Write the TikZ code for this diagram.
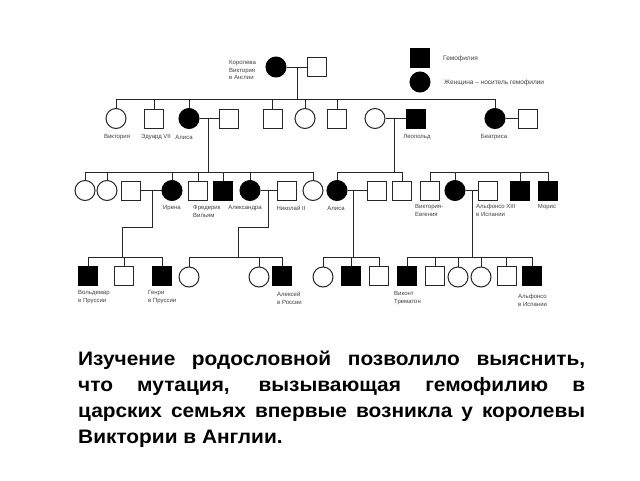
\documentclass[tikz,border=0pt]{standalone}
\usepackage{fontspec}
\setmainfont{Liberation Sans}
\newfontfamily\capfont[FakeStretch=1.07]{Liberation Sans}
\begin{document}
\begin{tikzpicture}[x=1pt,y=-1pt,
  ln/.style={draw=black!85,line width=0.9pt},
  sq/.style={draw=black!85,line width=1pt,fill=white,rectangle,minimum size=19pt,inner sep=0pt},
  sqf/.style={sq,fill=black,draw=black},
  ci/.style={draw=black!85,line width=1pt,fill=white,circle,minimum size=20pt,inner sep=0pt},
  cif/.style={ci,fill=black,draw=black},
  lbl/.style={text=black!75,font=\fontsize{6}{7.8}\selectfont,inner sep=0pt,align=left},
  lgd/.style={text=black!75,font=\fontsize{6.5}{8}\selectfont,inner sep=0pt,anchor=west}]
\useasboundingbox (0,0) rectangle (640,480);
\fill[white] (0,0) rectangle (640,480);

% ---------- legend ----------
\node[sqf] (lg1) at (419.5,57.5) {};
\node[cif] (lg2) at (420,82) {};
\node[lgd] (lgt1) at (443,59) {Гемофилия};
\node[lgd] (lgt2) at (444,83) {Женщина -- носитель гемофилии};

% ---------- generation 1 ----------
\node[cif] (qv) at (276,67) {};
\node[sq] (qa) at (317,67) {};
\node[lbl,anchor=north west] (lqv) at (229,60) {Королева\\Виктория\\в Англии};
\draw[ln] (qv.east) -- (qa.west);
\coordinate (m1) at (297,67);
\coordinate (s1) at (297,99);
\draw[ln] (m1) -- (s1);

% ---------- generation 2 ----------
\coordinate (s2l) at (116,99);
\coordinate (s2r) at (495,99);
\draw[ln] (s2l) -- (s2r);
\node[ci]  (g2a) at (116,118.5) {};
\node[sq]  (g2b) at (154,118.5) {};
\node[cif] (g2c) at (189,118.5) {};
\node[sq]  (g2d) at (229,118.5) {};
\node[sq]  (g2e) at (272.5,118.5) {};
\node[ci]  (g2f) at (305,118.5) {};
\node[sq]  (g2g) at (337,118.5) {};
\node[ci]  (g2h) at (375,118.5) {};
\node[sqf] (g2i) at (415.5,118.5) {};
\node[cif] (g2j) at (495,118.5) {};
\node[sq]  (g2k) at (527.5,118.5) {};
\foreach \n in {g2a,g2b,g2c,g2e,g2f,g2g,g2j}
  \draw[ln] (\n.north) -- (\n.north |- s2l);
\draw[ln] (g2c.east) -- (g2d.west);
\draw[ln] (g2h.east) -- (g2i.west);
\draw[ln] (g2j.east) -- (g2k.west);
\node[lbl] (l2a) at (117,137) {Виктория};
\node[lbl] (l2b) at (156,137) {Эдуард VII};
\node[lbl] (l2c) at (184,137) {Алиса};
\node[lbl] (l2i) at (417,137) {Леопольд};
\node[lbl] (l2j) at (494,137) {Беатриса};

% ---------- generation 3 ----------
\coordinate (m2c) at (208,118.5);
\coordinate (s3a) at (208,172);
\draw[ln] (m2c) -- (s3a);
\coordinate (m2h) at (394,118.5);
\coordinate (s3b) at (394,172);
\draw[ln] (m2h) -- (s3b);
\coordinate (s3al) at (85,172);
\coordinate (s3ar) at (313,172);
\draw[ln] (s3al) -- (s3ar);
\coordinate (s3bl) at (337,172);
\coordinate (s3br) at (402,172);
\draw[ln] (s3bl) -- (s3br);
\coordinate (s3cl) at (430,172);
\coordinate (s3cr) at (548,172);
\draw[ln] (s3cl) -- (s3cr);

\node[ci]  (g3a) at (85,190.5) {};
\node[ci]  (g3b) at (107,190.5) {};
\node[sq]  (g3c) at (131,190.5) {};
\node[cif] (g3d) at (172,190.5) {};
\node[sq]  (g3e) at (198,190.5) {};
\node[sqf] (g3f) at (223,190.5) {};
\node[cif] (g3g) at (250,190.5) {};
\node[sq]  (g3h) at (286.5,190.5) {};
\node[ci]  (g3i) at (313,190.5) {};
\node[cif] (g3j) at (337,190.5) {};
\node[sq]  (g3k) at (377,190.5) {};
\node[sq]  (g3l) at (402,190.5) {};
\node[sq]  (g3m) at (430,190.5) {};
\node[cif] (g3n) at (455,190.5) {};
\node[sq]  (g3o) at (488,190.5) {};
\node[sqf] (g3p) at (520,190.5) {};
\node[sqf] (g3q) at (548,190.5) {};
\foreach \n in {g3a,g3b,g3d,g3e,g3f,g3g,g3i,g3j,g3l,g3m,g3n,g3p,g3q}
  \draw[ln] (\n.north) -- (\n.north |- s3al);
\draw[ln] (g3c.east) -- (g3d.west);
\draw[ln] (g3g.east) -- (g3h.west);
\draw[ln] (g3j.east) -- (g3k.west);
\draw[ln] (g3n.east) -- (g3o.west);
\node[lbl] (l3d) at (172,208) {Ирена};
\node[lbl,anchor=north west] (l3e) at (193,205) {Фредерик\\Вильям};
\node[lbl] (l3g) at (245,208) {Александра};
\node[lbl] (l3h) at (291,208) {Николай II};
\node[lbl] (l3j) at (336,208) {Алиса};
\node[lbl,anchor=north west] (l3m) at (415,204) {Виктория-\\Евгения};
\node[lbl,anchor=north west] (l3o) at (476,204) {Альфонсо XIII\\в Испании};
\node[lbl] (l3q) at (547,207) {Морис};

% ---------- generation 4 ----------
\coordinate (m3c) at (152,190.5);
\coordinate (k3c) at (152,227);
\coordinate (j3c) at (122,227);
\coordinate (s4a) at (122,257);
\draw[ln] (m3c) -- (k3c) -- (j3c) -- (s4a);
\coordinate (m3g) at (268,190.5);
\coordinate (k3g) at (268,227);
\coordinate (j3g) at (238,227);
\coordinate (s4b) at (238,257);
\draw[ln] (m3g) -- (k3g) -- (j3g) -- (s4b);
\coordinate (m3j) at (353,190.5);
\coordinate (s4c) at (353,257);
\draw[ln] (m3j) -- (s4c);
\coordinate (m3n) at (472,190.5);
\coordinate (s4d) at (472,257);
\draw[ln] (m3n) -- (s4d);

\node[sqf] (g4a) at (88,276) {};
\node[sq]  (g4b) at (124,276) {};
\node[sqf] (g4c) at (162,276) {};
\node[ci]  (g4d) at (189,277) {};
\node[ci]  (g4e) at (259,277) {};
\node[sqf] (g4f) at (282,276) {};
\node[ci]  (g4g) at (323,277) {};
\node[sqf] (g4h) at (351,276) {};
\node[sq]  (g4i) at (379,276) {};
\node[sqf] (g4j) at (407,276) {};
\node[sq]  (g4k) at (435,276) {};
\node[ci]  (g4l) at (458,277) {};
\node[ci]  (g4m) at (481,277) {};
\node[sq]  (g4n) at (506.5,276) {};
\node[sqf] (g4o) at (532,276) {};
\draw[ln] (g4a.north |- s4a) -- (g4c.north |- s4a);
\draw[ln] (g4d.north |- s4b) -- (g4f.north |- s4b);
\draw[ln] (g4g.north |- s4c) -- (g4i.north |- s4c);
\draw[ln] (g4j.north |- s4d) -- (g4o.north |- s4d);
\foreach \n in {g4a,g4b,g4c,g4d,g4e,g4f,g4g,g4h,g4i,g4j,g4k,g4l,g4m,g4n,g4o}
  \draw[ln] (\n.north) -- (\n.north |- s4a);
\node[lbl,anchor=north west] (l4a) at (78,290) {Вольдемар\\в Пруссии};
\node[lbl,anchor=north west] (l4c) at (148,290) {Генри\\в Пруссии};
\node[lbl,anchor=north west] (l4f) at (277,292) {Алексей\\в России};
\node[lbl,anchor=north west] (l4j) at (394,291) {Виконт\\Трематон};
\node[lbl,anchor=north west] (l4o) at (518,294) {Альфонсо\\в Испании};

% ---------- caption ----------
\node[anchor=north west,inner sep=0pt,text width=507pt,align=justify,
      font=\capfont\bfseries\fontsize{19.5}{25.9}\selectfont] (cap) at (78,351)
  {\hyphenpenalty=10000\exhyphenpenalty=10000
   Изучение родословной позволило выяснить,\linebreak
   что мутация, вызывающая гемофилию в\linebreak
   царских семьях впервые возникла у королевы\linebreak
   Виктории в Англии.};
\end{tikzpicture}
\end{document}
